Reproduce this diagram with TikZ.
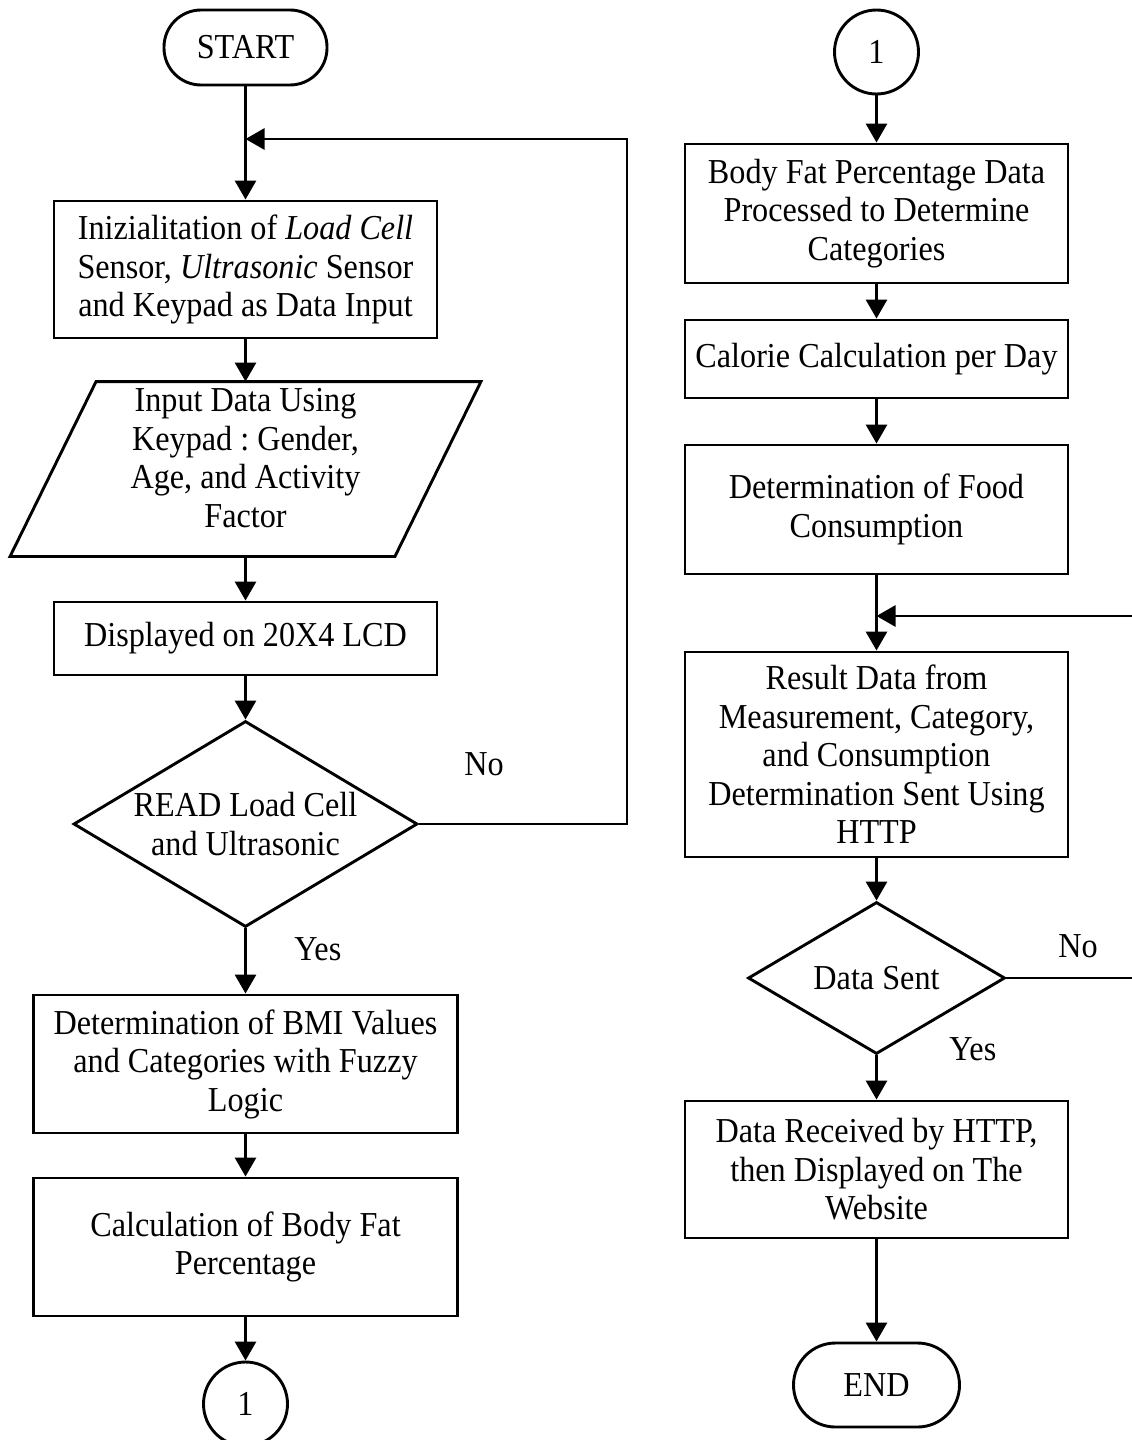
\documentclass[tikz,border=0pt]{standalone}
\usepackage{fontspec}
\setmainfont{Liberation Serif}[FakeStretch=0.92]
\usetikzlibrary{shapes.geometric,arrows.meta}
\frenchspacing
\begin{document}
\begin{tikzpicture}[x=1pt,y=-1pt,
  every node/.style={font=\fontsize{35}{38.5}\selectfont\frenchspacing, inner sep=0pt, align=center, line width=2.9pt},
  proc/.style={draw, rectangle, minimum width=383pt},
  term/.style={draw, rectangle, rounded corners=37pt, minimum width=163pt, minimum height=75pt},
  conn/.style={draw, circle, minimum size=84pt},
  dec/.style={draw, diamond, aspect=1.67},
  lbl/.style={anchor=base west},
  line/.style={line width=2.9pt},
  arr/.style={line width=2.9pt, -{Triangle[length=19pt,width=21pt]}}
]
\useasboundingbox (0,0) rectangle (1132,1440);

% left column
\node[term] (start) at (245.5,47.5) {START};
\coordinate (m1) at (245.5,139);
\node[proc, minimum height=137pt] (b1) at (245.5,269.5) {Inizialitation of \textit{Load Cell}\\Sensor, \textit{Ultrasonic} Sensor\\and Keypad as Data Input};
\node[minimum width=382pt, minimum height=172pt, text depth=22pt] (inp) at (245.5,469) {Input Data Using\\Keypad : Gender,\\Age, and Activity\\Factor};
\draw[line] ([xshift=43pt]inp.north west) -- ([xshift=43pt]inp.north east) -- ([xshift=-43pt]inp.south east) -- ([xshift=-43pt]inp.south west) -- cycle;
\node[proc, minimum height=73pt] (disp) at (245.5,638.5) {Displayed on 20X4 LCD};
\node[dec, minimum width=344pt, minimum height=206pt] (d1) at (245.5,824) {READ Load Cell\\and Ultrasonic};
\node[proc, minimum width=424pt, minimum height=138pt] (bmi) at (245.5,1064) {Determination of BMI Values\\and Categories with Fuzzy\\Logic};
\node[proc, minimum width=424pt, minimum height=138pt] (calc) at (245.5,1247) {Calculation of Body Fat\\Percentage};
\node[conn] (c1) at (245.5,1404) {1};
\coordinate (k1) at (627,139);

\node[lbl] (no1) at (463,775) {No};
\node[lbl] (yes1) at (293,960) {Yes};

% right column
\node[conn] (c2) at (876.5,52) {1};
\node[proc, minimum height=139pt] (r1) at (876.5,213.5) {Body Fat Percentage Data\\Processed to Determine\\Categories};
\node[proc, minimum height=78pt] (r2) at (876.5,359) {Calorie Calculation per Day};
\node[proc, minimum height=129pt] (r3) at (876.5,509.5) {Determination of Food\\Consumption};
\coordinate (m2) at (876.5,616);
\node[proc, minimum height=205pt] (r4) at (876.5,754.5) {Result Data from\\Measurement, Category,\\and Consumption\\Determination Sent Using\\HTTP};
\node[dec, minimum width=257pt, minimum height=152pt] (d2) at (876.5,978) {Data Sent};
\node[proc, minimum height=137pt] (r5) at (876.5,1169.5) {Data Received by HTTP,\\then Displayed on The\\Website};
\node[term, minimum width=166pt, minimum height=84pt, rounded corners=42pt] (end) at (876.5,1385) {END};
\coordinate (k2) at (1170,616);

\node[lbl] (no2) at (1057,957) {No};
\node[lbl] (yes2) at (948,1060) {Yes};

% connectors
\draw[arr] (start) -- (b1);
\draw[arr] (d1.east) -| (k1) -- (m1);
\draw[arr] (b1) -- (inp);
\draw[arr] (inp) -- (disp);
\draw[arr] (disp) -- (d1);
\draw[arr] (d1) -- (bmi);
\draw[arr] (bmi) -- (calc);
\draw[arr] (calc) -- (c1);

\draw[arr] (c2) -- (r1);
\draw[arr] (r1) -- (r2);
\draw[arr] (r2) -- (r3);
\draw[arr] (r3) -- (r4);
\draw[arr] (d2.east) -| (k2) -- (m2);
\draw[arr] (r4) -- (d2);
\draw[arr] (d2) -- (r5);
\draw[arr] (r5) -- (end);
\end{tikzpicture}
\end{document}
